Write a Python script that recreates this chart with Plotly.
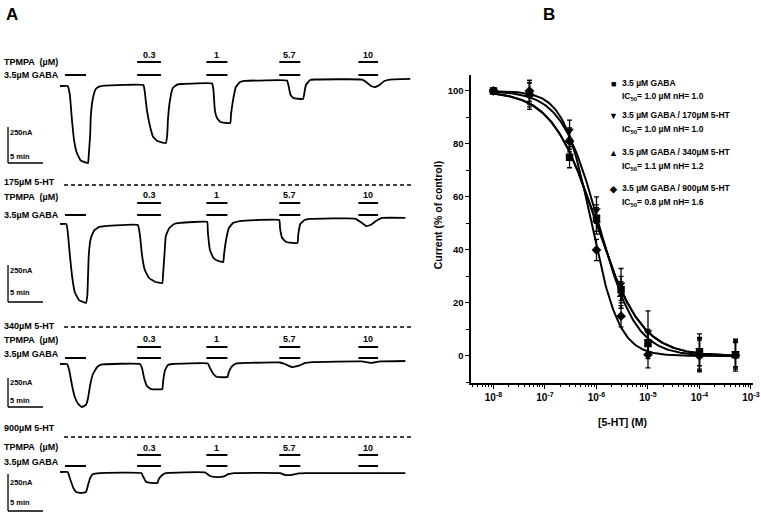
import numpy as np
import plotly.graph_objects as go

W, H = 761, 513

# ---------------- Panel B data ----------------
SHT_CONC_M = [1e-8, 5e-8, 3e-7, 1e-6, 3e-6, 1e-5, 1e-4, 5e-4]
SERIES_NAMES = ["3.5 µM GABA", "3.5 µM GABA / 170µM 5-HT",
                "3.5 µM GABA / 340µM 5-HT", "3.5 µM GABA / 900µM 5-HT"]
CUR_GABA = [100, 99, 75, 52, 25, 5, 1, 0.5]
CUR_170 = [100, 98, 85, 55, 27, 9, 2.3, 1]
CUR_340 = [100, 99, 82, 51, 23, 4, 0.5, 0]
CUR_900 = [100, 100, 81, 40, 15, 0.5, 0, 0.3]
ERR_GABA = [1, 4, 4, 5, 5, 5, 6, 5]
ERR_170 = [1, 5, 4, 5, 6, 8, 6, 5]
ERR_340 = [1, 5, 4, 5, 5, 5, 6, 5]
ERR_900 = [1, 4, 4, 4, 4, 5, 6, 6]
IC50_UM = [1.0, 1.0, 1.1, 0.8]
NH = [1.0, 1.0, 1.2, 1.6]
SYMBOLS = ["square", "triangle-down", "triangle-up", "diamond"]
SYMBOL_CHARS = ["■", "▼", "▲", "◆"]
X_TICKS = [1e-8, 1e-7, 1e-6, 1e-5, 1e-4, 1e-3]
X_TICKTEXT = ["10<sup>-8</sup>", "10<sup>-7</sup>", "10<sup>-6</sup>",
              "10<sup>-5</sup>", "10<sup>-4</sup>", "10<sup>-3</sup>"]
Y_TICKS = [0, 20, 40, 60, 80, 100]

# ---------------- Panel A data ----------------
TPMPA_LABELS = ["0.3", "1", "5.7", "10"]
APPLY_START_MIN = [0.7, 11.0, 20.9, 31.3, 42.6]
APPLY_END_MIN = [3.7, 14.4, 23.9, 34.3, 45.4]
SHT_LABELS = [None, "175µM 5-HT", "340µM 5-HT", "900µM 5-HT"]
SCALE_NA = 250
SCALE_MIN = 5

T_ROW1 = [0, 1.1, 1.4, 1.7, 2.0, 2.4, 2.9, 3.4, 4.0, 4.1, 4.3, 4.4, 4.7, 5.1, 5.7, 6.4,
          11.9, 12.1, 12.4, 12.9, 13.3, 13.9, 15.1, 15.3, 15.4, 15.7, 16.1, 16.7, 17.4,
          21.7, 21.9, 22.1, 22.4, 22.9, 24.3, 24.4, 24.7, 25.1, 25.7, 26.4,
          32.4, 32.6, 32.9, 33.3, 34.7, 34.9, 35.1, 35.7, 36.4,
          43.1, 43.7, 44.4, 45.0, 45.6, 46.3, 47.1, 50.0]
I_ROW1 = [0, 0, -62, -236, -375, -465, -514, -527, -534, -479, -340, -201, -83, -21, -3, 3,
          7, -42, -167, -291, -354, -382, -396, -340, -236, -97, -14, 10, 14,
          17, -28, -167, -222, -250, -257, -201, -97, -7, 28, 35,
          38, 7, -62, -83, -90, -42, 7, 42, 45,
          45, 28, 0, -7, 7, 35, 45, 49]

T_ROW2 = [0, 0.9, 1.1, 1.4, 1.7, 2.1, 2.7, 3.7, 3.9, 4.0, 4.1, 4.4, 4.9, 5.6, 6.4,
          11.1, 11.4, 11.7, 12.1, 12.7, 13.6, 14.6, 14.7, 14.9, 15.1, 15.6, 16.3, 17.1,
          21.0, 21.1, 21.4, 21.9, 22.6, 23.3, 23.4, 23.7, 24.1, 24.7, 25.7,
          31.3, 31.4, 31.7, 32.3, 33.9, 34.0, 34.3, 34.9, 35.7,
          42.1, 42.9, 43.7, 44.3, 45.1, 46.0, 49.3]
I_ROW2 = [0, 0, -54, -210, -345, -460, -514, -534, -480, -345, -210, -95, -41, -20, -14,
          -7, -74, -210, -311, -365, -392, -399, -345, -210, -81, -27, 0, 7,
          14, -54, -176, -230, -250, -257, -210, -108, -27, 7, 20,
          27, -27, -95, -122, -128, -74, 0, 27, 34,
          37, 14, -14, -7, 20, 41, 41]

T_ROW3 = [0, 1.0, 1.3, 1.7, 2.1, 2.6, 3.1, 3.7, 4.0, 4.3, 4.7, 5.3, 6.0,
          11.4, 11.7, 12.0, 12.4, 13.0, 14.6, 14.7, 15.0, 15.4, 16.0,
          21.1, 21.4, 21.9, 22.4, 23.9, 24.1, 24.6, 25.1, 26.4,
          31.4, 32.1, 33.1, 34.0, 35.0, 36.0,
          43.1, 44.3, 45.7, 49.3]
I_ROW3 = [0, 0, -52, -181, -284, -345, -371, -353, -293, -181, -86, -26, -4,
          0, -34, -121, -190, -216, -216, -155, -52, -9, 0,
          4, -34, -86, -112, -112, -69, -17, 4, 9,
          13, 0, -26, -17, 9, 17,
          22, 9, 22, 26]

T_ROW4 = [0, 1.1, 1.4, 1.9, 2.3, 3.0, 3.7, 4.0, 4.3, 4.7, 5.7,
          11.6, 11.9, 12.3, 13.0, 13.9, 14.1, 14.6, 15.1,
          20.7, 21.4, 22.4, 23.4, 24.0, 24.9,
          31.4, 32.1, 33.1, 34.0, 35.0, 49.3]
I_ROW4 = [0, 0, -41, -108, -135, -142, -135, -88, -41, -14, -7,
          -7, -34, -68, -74, -74, -47, -20, -7,
          -3, -27, -34, -30, -14, -7,
          -7, -20, -20, -10, -7, -7]

TRACES_T = [T_ROW1, T_ROW2, T_ROW3, T_ROW4]
TRACES_I = [I_ROW1, I_ROW2, I_ROW3, I_ROW4]

# ---------------- layout helpers ----------------
SX = 1.01   # small horizontal correction observed in the rendered page


def px(x):
    return min(1.0, x * SX / W)


def py(y):
    return 1 - y / H


FONT = "Liberation Sans Narrow, Liberation Sans, Arial, sans-serif"
fig = go.Figure()
annotations = []
shapes = []


def txt(x, y, s, size=9, anchor="left", bold=True, angle=0, xref="paper", yref="paper"):
    annotations.append(dict(x=x, y=y, xref=xref, yref=yref, text=s, showarrow=False,
                            xanchor=anchor, yanchor="middle", textangle=angle,
                            font=dict(family=FONT, size=size, color="black",
                                      weight="bold" if bold else "normal")))


# ---------------- Panel A ----------------
T_AT_PX0 = -60 / 7.0       # time at pixel x=0 (7 px per minute)
T_AT_PXR = (420 - 60) / 7.0
ROWS = [
    dict(b=86, s=6.94, top=40, bot=172, sb=163, ub=62, lb=75, cl=55, hl=None, dl=None, tl=62, gl=75,
         l250=132, l5=156),
    dict(b=224, s=6.76, top=178, bot=312, sb=302, ub=203, lb=215, cl=195, hl=182, dl=185, tl=197, gl=215,
         l250=270, l5=292),
    dict(b=364, s=8.62, top=318, bot=416, sb=407, ub=347, lb=358, cl=339, hl=326, dl=327, tl=340, gl=354,
         l250=382, l5=400),
    dict(b=472, s=6.76, top=420, bot=513, sb=511, ub=455, lb=466, cl=448, hl=428, dl=437, tl=447, gl=462,
         l250=482, l5=502),
]

for r, row in enumerate(ROWS):
    k = r + 2
    xa, ya = f"x{k}", f"y{k}"
    b, s = row["b"], row["s"]
    fig.add_trace(go.Scatter(x=TRACES_T[r], y=TRACES_I[r], mode="lines",
                             line=dict(color="black", width=1.8, shape="spline", smoothing=0.3),
                             xaxis=xa, yaxis=ya, showlegend=False, hoverinfo="skip"))
    common = dict(visible=False, fixedrange=True)
    fig.layout[f"xaxis{k}"] = dict(domain=[0, px(420)], range=[T_AT_PX0, T_AT_PXR],
                                   anchor=ya, **common)
    fig.layout[f"yaxis{k}"] = dict(domain=[py(row["bot"]), py(row["top"])],
                                   range=[-(row["bot"] - b) * s, -(row["top"] - b) * s],
                                   anchor=xa, **common)
    for j in range(len(APPLY_START_MIN)):
        shapes.append(dict(type="line", xref=xa, yref="paper", x0=APPLY_START_MIN[j],
                           x1=APPLY_END_MIN[j], y0=py(row["lb"]), y1=py(row["lb"]),
                           line=dict(color="black", width=2)))
        if j > 0:
            shapes.append(dict(type="line", xref=xa, yref="paper", x0=APPLY_START_MIN[j],
                               x1=APPLY_END_MIN[j], y0=py(row["ub"]), y1=py(row["ub"]),
                               line=dict(color="black", width=2)))
            txt((APPLY_START_MIN[j] + APPLY_END_MIN[j]) / 2, py(row["cl"]), TPMPA_LABELS[j - 1],
                size=9, anchor="center", xref=xa)
    y_sb = -(row["sb"] - b) * s
    x_sb = T_AT_PX0 + 8 / 7.0
    shapes.append(dict(type="line", xref=xa, yref=ya, x0=x_sb, x1=x_sb, y0=y_sb, y1=y_sb + SCALE_NA,
                       line=dict(color="black", width=1.3)))
    shapes.append(dict(type="line", xref=xa, yref=ya, x0=x_sb, x1=x_sb + SCALE_MIN, y0=y_sb, y1=y_sb,
                       line=dict(color="black", width=1.3)))
    txt(px(8), py(row["l250"]), f"{SCALE_NA}nA", size=7.5)
    txt(px(8), py(row["l5"]), f"{SCALE_MIN} min", size=7.5)
    txt(px(2), py(row["tl"]), "TPMPA  (µM)", size=9)
    txt(px(2), py(row["gl"]), "3.5µM GABA", size=9)
    if SHT_LABELS[r]:
        txt(px(2), py(row["hl"]), SHT_LABELS[r], size=9)
        shapes.append(dict(type="line", xref="paper", yref="paper", x0=px(64), x1=px(413),
                           y0=py(row["dl"]), y1=py(row["dl"]),
                           line=dict(color="black", width=1.6, dash="4px,3px")))

# ---------------- Panel B ----------------
all_cur = [CUR_GABA, CUR_170, CUR_340, CUR_900]
all_err = [ERR_GABA, ERR_170, ERR_340, ERR_900]
xfit = np.logspace(np.log10(SHT_CONC_M[0]), np.log10(SHT_CONC_M[-1]), 200)
for i in range(4):
    yfit = 100.0 / (1.0 + (xfit / (IC50_UM[i] * 1e-6)) ** NH[i])
    fig.add_trace(go.Scatter(x=xfit, y=yfit, mode="lines", line=dict(color="black", width=2),
                             showlegend=False, hoverinfo="skip", xaxis="x", yaxis="y"))
for i in range(4):
    fig.add_trace(go.Scatter(x=SHT_CONC_M, y=all_cur[i], mode="markers",
                             marker=dict(symbol=SYMBOLS[i], size=7.5, color="black"),
                             error_y=dict(type="data", array=all_err[i], color="black",
                                          thickness=1.3, width=2.5),
                             name=SERIES_NAMES[i], showlegend=False, xaxis="x", yaxis="y"))

axis_font = dict(family=FONT, size=9.5, color="black", weight="bold")
fig.update_layout(
    xaxis=dict(type="log", domain=[px(471), px(752)], range=[-8.43, -2.97],
               tickvals=X_TICKS, ticktext=X_TICKTEXT, ticklabeloverflow="allow",
               tickfont=dict(family=FONT, size=10, color="black", weight="bold"),
               showline=True, linecolor="black", linewidth=1.8, ticks="outside", ticklen=4,
               tickwidth=1.4, tickcolor="black", showgrid=False, zeroline=False, anchor="y",
               minor=dict(tickvals=[m * 10.0 ** e for e in range(-9, -2) for m in range(2, 10)],
                          ticks="outside", ticklen=2.5, tickwidth=1, tickcolor="black",
                          showgrid=False)),
    yaxis=dict(domain=[py(383), py(75)], range=[-10.2, 106], tickvals=Y_TICKS,
               tickfont=axis_font, showline=True, linecolor="black", linewidth=1.8,
               ticks="outside", ticklen=4, tickwidth=1.4, tickcolor="black", showgrid=False,
               zeroline=False, anchor="x",
               minor=dict(dtick=10, tick0=0, ticks="outside", ticklen=3, tickwidth=1,
                          tickcolor="black", showgrid=False)),
)

txt(px(622), py(422), "[5-HT] (M)", size=10.5, anchor="center")
txt(px(438), py(215), "Current (% of control)", size=10.5, anchor="center", angle=-90)

LEG_Y = [(83, 96), (115, 129), (152, 166), (188, 202)]
for i in range(4):
    y1, y2 = LEG_Y[i]
    txt(px(613), py(y1 + 1), SYMBOL_CHARS[i], size=9, anchor="center")
    txt(px(620), py(y1), SERIES_NAMES[i], size=8.5)
    txt(px(620), py(y2), f"IC<sub>50</sub>= {IC50_UM[i]:.1f} µM nH= {NH[i]:.1f}", size=8.5)

annotations.append(dict(x=px(12), y=py(14), xref="paper", yref="paper", text="A", showarrow=False,
                        xanchor="center", yanchor="middle",
                        font=dict(family="Liberation Sans, Arial", size=17, color="black", weight="bold")))
annotations.append(dict(x=px(549), y=py(14), xref="paper", yref="paper", text="B", showarrow=False,
                        xanchor="center", yanchor="middle",
                        font=dict(family="Liberation Sans, Arial", size=17, color="black", weight="bold")))

fig.update_layout(width=W, height=H, autosize=False, margin=dict(l=0, r=0, t=0, b=0),
                  paper_bgcolor="white", plot_bgcolor="white",
                  annotations=annotations, shapes=shapes, showlegend=False)

fig.write_html("out.html", config={"responsive": False, "displayModeBar": False},
               post_script="document.body.style.margin='0';document.body.style.overflow='hidden';")
